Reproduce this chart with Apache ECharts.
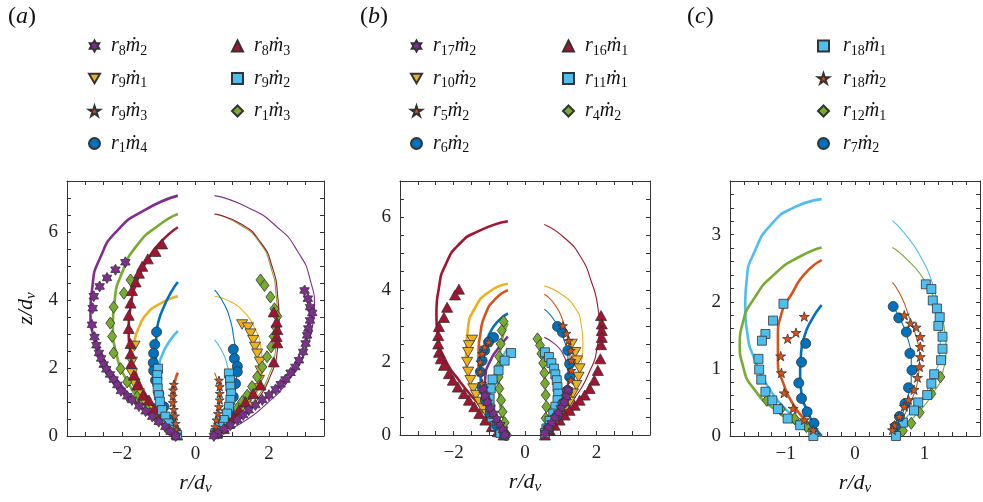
<!DOCTYPE html>
<html>
<head>
<meta charset="utf-8">
<script src="https://cdn.jsdelivr.net/npm/echarts@6/dist/echarts.min.js"></script>
<style>
html,body{margin:0;padding:0;background:#fff;}
#main{width:983px;height:502px;}
</style>
</head>
<body>
<div id="main"></div>
<script>
// ---- panel (a) ----
var a_r8m2_left  = [[-0.48,7.07],[-1.41,6.63],[-2.13,6.04],[-2.59,5.26],[-2.81,4.38],[-2.86,3.6],[-2.77,2.91],[-2.5,2.23],[-2.13,1.64],[-1.59,0.96],[-0.95,0.37],[-0.48,0]];
var a_r8m2_right = [[0.52,7.07],[1.41,6.73],[2.23,6.14],[2.77,5.45],[3.13,4.57],[3.24,3.79],[3.18,3.21],[2.95,2.42],[2.54,1.64],[1.95,0.96],[1.23,0.37],[0.5,0]];
var a_r8m2_pts = [[-1.91,5.11],[-2.18,4.89],[-2.41,4.65],[-2.61,4.4],[-2.77,4.11],[-2.8,3.76],[-2.82,3.27],[-2.75,2.91],[-2.7,2.67],[-2.63,2.44],[-2.57,2.28],[-2.5,2.1],[-2.43,1.96],[-2.33,1.81],[-2.23,1.66],[-2.13,1.5],[-2.03,1.33],[-1.86,1.17],[-1.73,1.06],[-1.54,0.88],[-1.36,0.73],[-1.18,0.57],[-1.0,0.42],[-0.82,0.27],[-0.68,0.13],[-0.54,0],
  [2.97,4.28],[3.06,4.04],[3.12,3.79],[3.18,3.62],[3.12,3.4],[3.07,3.16],[3.04,2.96],[3.0,2.72],[2.93,2.47],[2.82,2.23],[2.72,2.03],[2.59,1.86],[2.45,1.66],[2.32,1.52],[2.18,1.37],[2.0,1.2],[1.82,1.06],[1.63,0.91],[1.45,0.76],[1.3,0.62],[1.14,0.47],[0.95,0.32],[0.77,0.2],[0.61,0.08],[0.5,0]];

var a_r9m1_left  = [[-0.48,4.11],[-0.95,3.9],[-1.32,3.6],[-1.54,3.2],[-1.66,2.8],[-1.72,2.3],[-1.7,1.8],[-1.55,1.25],[-1.2,0.7],[-0.8,0.3],[-0.48,0]];
var a_r9m1_right = [[0.52,4.11],[0.95,3.95],[1.32,3.65],[1.6,3.2],[1.78,2.6],[1.82,2.0],[1.72,1.4],[1.45,0.85],[1.0,0.35],[0.52,0]];
var a_r9m1_pts = [[-1.66,2.65],[-1.73,2.18],[-1.73,1.84],[-1.66,1.54],[-1.54,1.25],[-1.36,0.96],[-1.18,0.76],[-1.0,0.55],[-0.79,0.32],[-0.59,0.1],
  [1.27,3.28],[1.43,3.19],[1.5,3.01],[1.57,2.82],[1.62,2.62],[1.68,2.42],[1.75,2.18],[1.77,1.92],[1.73,1.64],[1.63,1.4],[1.5,1.15],[1.36,0.94],[1.23,0.74],[1.06,0.55],[0.91,0.37],[0.75,0.22],[0.59,0.08]];

var a_r9m3_left  = [[-0.48,1.86],[-0.56,1.6],[-0.6,1.2],[-0.6,0.8],[-0.56,0.4],[-0.48,0]];
var a_r9m3_right = [[0.52,1.86],[0.6,1.6],[0.66,1.2],[0.65,0.8],[0.58,0.4],[0.52,0]];
var a_r9m3_pts = [[-0.59,1.52],[-0.61,1.35],[-0.62,1.17],[-0.62,0.98],[-0.59,0.78],[-0.56,0.59],[-0.54,0.37],[-0.53,0.18],[-0.5,0.03],
  [0.64,1.64],[0.66,1.45],[0.66,1.25],[0.66,1.06],[0.64,0.86],[0.61,0.66],[0.57,0.47],[0.54,0.27],[0.52,0.12]];

var a_r1m4_left  = [[-0.48,4.53],[-0.68,4.2],[-0.86,3.8],[-1.0,3.4],[-1.06,3.0],[-1.08,2.5],[-1.05,1.9],[-0.95,1.3],[-0.8,0.7],[-0.6,0.25],[-0.48,0]];
var a_r1m4_right = [[0.52,4.3],[0.77,3.9],[0.95,3.4],[1.04,2.9],[1.1,2.4],[1.12,1.9],[1.08,1.3],[0.9,0.7],[0.7,0.3],[0.52,0]];
var a_r1m4_pts = [[-1.06,3.06],[-1.11,2.69],[-1.14,2.43],[-1.15,2.15],[-1.14,1.92],[-1.09,1.64],[-1.0,1.25],[-0.86,0.86],[-0.68,0.47],[-0.54,0.13],
  [1.03,2.55],[1.06,2.28],[1.14,2.05],[1.14,1.89],[1.09,1.54],[1.03,1.15],[0.91,0.76],[0.75,0.39],[0.59,0.08]];

var a_r8m3_left  = [[-0.48,6.14],[-0.95,5.7],[-1.32,5.16],[-1.59,4.57],[-1.77,3.79],[-1.82,3.11],[-1.77,2.42],[-1.59,1.74],[-1.32,1.15],[-0.95,0.57],[-0.48,0]];
var a_r8m3_right = [[0.52,6.53],[1.23,6.24],[1.77,5.7],[2.09,4.97],[2.24,4.09],[2.28,3.3],[2.23,2.52],[2.03,1.74],[1.68,1.06],[1.18,0.47],[0.52,0]];
var a_r8m3_pts = [[-0.91,5.65],[-1.09,5.43],[-1.3,5.21],[-1.45,4.99],[-1.54,4.79],[-1.63,4.53],[-1.73,4.28],[-1.77,3.91],[-1.82,3.55],[-1.82,3.16],[-1.77,2.72],[-1.77,2.42],[-1.75,2.13],[-1.68,1.79],[-1.59,1.5],[-1.43,1.2],[-1.27,1.06],[-1.12,0.81],[-0.95,0.62],[-0.77,0.39],[-0.59,0.18],[-0.5,0.03],
  [2.13,3.65],[2.21,3.35],[2.23,3.13],[2.21,2.93],[2.23,2.74],[2.13,2.18],[1.77,1.5],[1.57,1.25],[1.36,1.01],[1.18,0.76],[1.04,0.55],[0.91,0.37],[0.77,0.22],[0.59,0.08]];

var a_r9m2_left  = [[-0.48,3.09],[-0.7,2.8],[-0.9,2.4],[-1.0,2.0],[-1.02,1.5],[-0.95,1.0],[-0.8,0.5],[-0.48,0]];
var a_r9m2_right = [[0.52,2.83],[0.72,2.5],[0.86,2.1],[0.93,1.6],[0.93,1.1],[0.82,0.6],[0.52,0]];
var a_r9m2_pts = [[-1.02,1.98],[-1.04,1.79],[-1.04,1.59],[-1.03,1.4],[-1.0,1.2],[-0.97,1.01],[-0.91,0.76],[-0.82,0.57],[-0.73,0.37],[-0.59,0.18],[-0.5,0.03],
  [0.91,1.84],[0.94,1.64],[0.95,1.45],[0.97,1.25],[0.95,1.06],[0.91,0.86],[0.86,0.66],[0.77,0.47],[0.66,0.27],[0.54,0.08]];

var a_r1m3_left  = [[-0.48,6.53],[-1.0,6.2],[-1.6,5.6],[-2.0,4.8],[-2.2,4.0],[-2.25,3.2],[-2.15,2.4],[-1.85,1.6],[-1.4,0.9],[-0.9,0.35],[-0.48,0]];
var a_r1m3_right = [[0.52,6.53],[1.2,6.22],[1.74,5.7],[2.05,4.97],[2.2,4.09],[2.24,3.3],[2.18,2.52],[1.98,1.74],[1.63,1.06],[1.14,0.47],[0.52,0]];
var a_r1m3_pts = [[-1.77,4.59],[-1.95,4.2],[-2.23,3.79],[-2.32,3.32],[-2.27,2.93],[-2.23,2.44],[-2.04,1.98],[-1.86,1.59],[-1.59,1.15],[-1.32,0.78],[-1.04,0.49],[-0.77,0.22],[-0.54,0.03],
  [1.77,4.59],[1.88,4.43],[2.04,4.09],[2.15,3.74],[2.23,3.52],[2.18,3.21],[2.13,2.93],[2.06,2.62],[1.95,2.33],[1.82,2.03],[1.68,1.74],[1.54,1.45],[1.41,1.2],[1.27,1.01],[1.14,0.81],[1.0,0.62],[0.86,0.42],[0.73,0.25],[0.54,0.08]];

// ---- panel (b) ----
var b_r17m2_left  = [[-0.48,2.71],[-0.74,2.4],[-0.97,2.05],[-1.11,1.6],[-1.13,1.15],[-0.97,0.65],[-0.74,0.3],[-0.48,0]];
var b_r17m2_right = [[0.54,2.69],[0.83,2.51],[1.06,2.24],[1.18,1.87],[1.22,1.5],[1.15,1.0],[0.95,0.55],[0.54,0]];
var b_r17m2_pts = [[-1.16,1.25],[-1.11,1.07],[-1.05,0.89],[-0.97,0.73],[-0.88,0.58],[-0.79,0.43],[-0.69,0.27],[-0.62,0.14],[-0.56,0],
  [1.2,1.23],[1.16,1.05],[1.09,0.89],[1.0,0.73],[0.93,0.59],[0.83,0.46],[0.74,0.32],[0.65,0.18],[0.56,0.05]];

var b_r10m2_left  = [[-0.48,4.17],[-1.0,3.95],[-1.4,3.5],[-1.6,2.9],[-1.65,2.2],[-1.55,1.5],[-1.25,0.85],[-0.85,0.35],[-0.48,0]];
var b_r10m2_right = [[0.54,4.11],[1.02,3.88],[1.39,3.52],[1.57,3.06],[1.62,2.51],[1.57,1.96],[1.44,1.42],[1.2,0.91],[0.91,0.46],[0.56,0]];
var b_r10m2_pts = [[-1.48,2.62],[-1.57,2.47],[-1.59,2.28],[-1.62,2.01],[-1.59,1.74],[-1.53,1.51],[-1.45,1.28],[-1.37,1.1],[-1.28,0.91],[-1.18,0.73],[-1.06,0.57],[-0.93,0.39],[-0.79,0.23],[-0.63,0.09],
  [1.31,2.51],[1.41,2.28],[1.46,2.05],[1.53,1.83],[1.5,1.6],[1.44,1.37],[1.34,1.14],[1.25,0.91],[1.11,0.68],[0.97,0.46],[0.79,0.23],[0.6,0.05]];

var b_r5m2_left  = [[-0.48,3.99],[-0.83,3.75],[-1.11,3.33],[-1.25,2.78],[-1.3,2.24],[-1.25,1.69],[-1.11,1.14],[-0.83,0.59],[-0.48,0]];
var b_r5m2_right = [[0.54,3.88],[0.83,3.6],[1.06,3.15],[1.2,2.6],[1.26,2.05],[1.2,1.5],[1.06,0.96],[0.83,0.46],[0.54,0]];
var b_r5m2_pts = [[-1.02,2.56],[-1.13,2.42],[-1.2,2.24],[-1.25,2.01],[-1.25,1.74],[-1.2,1.42],[-1.11,1.05],[-0.97,0.68],[-0.79,0.37],[-0.6,0.09],
  [1.06,3.01],[1.16,2.8],[1.22,2.6],[1.28,2.33],[1.3,2.05],[1.3,1.78],[1.28,1.51],[1.22,1.23],[1.16,0.96],[1.04,0.68],[0.88,0.41],[0.69,0.16]];

var b_r6m2_left  = [[-0.48,3.35],[-0.74,3.15],[-1.0,2.78],[-1.15,2.37],[-1.24,1.87],[-1.24,1.42],[-1.15,0.96],[-0.93,0.5],[-0.48,0]];
var b_r6m2_right = [[0.54,3.47],[0.83,3.15],[1.06,2.7],[1.2,2.15],[1.22,1.7],[1.15,1.15],[0.97,0.6],[0.54,0]];
var b_r6m2_pts = [[-0.88,2.69],[-1.02,2.56],[-1.13,2.33],[-1.2,2.05],[-1.25,1.74],[-1.2,1.32],[-1.11,0.96],[-0.97,0.59],[-0.79,0.27],[-0.57,0],
  [0.91,2.99],[1.05,2.83],[1.2,2.33],[1.25,1.96],[1.25,1.6],[1.19,1.23],[1.06,0.87],[0.88,0.5],[0.65,0.18]];

var b_r16m1_left  = [[-0.48,5.89],[-1.3,5.62],[-1.85,5.25],[-2.22,4.7],[-2.41,4.06],[-2.48,3.33],[-2.43,2.69],[-2.22,2.05],[-1.85,1.51],[-1.39,0.96],[-0.93,0.5],[-0.51,0]];
var b_r16m1_right = [[0.54,5.8],[1.11,5.43],[1.57,4.89],[1.85,4.25],[2.04,3.52],[2.08,3.06],[2.02,2.42],[1.78,1.69],[1.41,1.05],[0.97,0.5],[0.56,0]];
var b_r16m1_pts = [[-1.85,4.02],[-1.96,3.86],[-2.18,3.52],[-2.27,3.24],[-2.41,2.99],[-2.43,2.74],[-2.43,2.51],[-2.41,2.28],[-2.36,2.1],[-2.27,1.92],[-2.13,1.69],[-2.02,1.51],[-1.88,1.32],[-1.71,1.14],[-1.57,0.96],[-1.42,0.78],[-1.28,0.59],[-1.11,0.41],[-0.93,0.23],[-0.76,0.09],[-0.6,0],
  [2.13,3.29],[2.15,3.06],[2.15,2.88],[2.15,2.69],[2.13,2.49],[2.11,2.1],[2.04,1.78],[1.94,1.51],[1.81,1.28],[1.67,1.1],[1.53,0.96],[1.39,0.82],[1.25,0.68],[1.11,0.55],[0.97,0.41],[0.83,0.27],[0.69,0.14],[0.56,0]];

var b_r11m1_left  = [[-0.48,2.4],[-0.7,2.0],[-0.9,1.5],[-0.98,1.0],[-0.9,0.5],[-0.48,0]];
var b_r11m1_right = [[0.54,2.3],[0.75,2.0],[0.9,1.5],[0.93,1.0],[0.8,0.5],[0.54,0]];
var b_r11m1_pts = [[-0.39,2.26],[-0.57,2.05],[-0.74,1.78],[-0.91,1.53],[-0.96,1.28],[-0.99,1.0],[-0.97,0.73],[-0.93,0.48],[-0.83,0.25],[-0.69,0.06],
  [0.56,2.28],[0.67,2.15],[0.74,1.98],[0.81,1.83],[0.85,1.67],[0.89,1.51],[0.91,1.32],[0.93,1.14],[0.91,0.96],[0.85,0.78],[0.79,0.59],[0.69,0.39],[0.6,0.18],[0.56,0.05]];

var b_r4m2_left  = [[-0.48,3.08],[-0.6,2.8],[-0.7,2.3],[-0.74,1.7],[-0.72,1.1],[-0.62,0.5],[-0.48,0]];
var b_r4m2_pts = [[-0.6,3.13],[-0.65,2.88],[-0.68,2.51],[-0.72,2.16],[-0.74,1.87],[-0.74,1.6],[-0.72,1.28],[-0.67,0.96],[-0.63,0.64],[-0.57,0.34],[-0.51,0],
  [0.35,2.65],[0.42,2.47],[0.46,2.24],[0.51,1.98],[0.54,1.71],[0.56,1.42],[0.58,1.1],[0.6,0.78],[0.58,0.46],[0.56,0.14]];

// ---- panel (c) ----
var c_r18m1_left  = [[-0.48,3.53],[-0.87,3.41],[-1.2,3.16],[-1.44,2.76],[-1.56,2.32],[-1.58,1.92],[-1.55,1.53],[-1.44,1.13],[-1.25,0.73],[-0.99,0.39],[-0.7,0.14],[-0.48,0]];
var c_r18m1_right = [[0.54,3.21],[0.76,2.96],[0.95,2.66],[1.1,2.32],[1.19,1.92],[1.23,1.58],[1.22,1.23],[1.12,0.88],[0.95,0.53],[0.71,0.24],[0.54,0]];
var c_r18m1_pts = [[-1.03,1.97],[-1.18,1.72],[-1.29,1.52],[-1.34,1.42],[-1.39,1.15],[-1.38,0.99],[-1.35,0.84],[-1.29,0.66],[-1.19,0.53],[-1.11,0.4],[-0.97,0.26],[-0.79,0.16],[-0.6,0],
  [1.02,2.26],[1.1,2.19],[1.12,2.02],[1.18,1.9],[1.22,1.77],[1.2,1.64],[1.26,1.48],[1.26,1.3],[1.24,1.13],[1.14,0.92],[1.1,0.78],[1.04,0.61],[0.91,0.5],[0.85,0.38],[0.69,0.2],[0.59,0]];

var c_r18m2_left  = [[-0.48,2.62],[-0.72,2.42],[-0.91,2.12],[-1.06,1.82],[-1.11,1.48],[-1.11,1.13],[-1.03,0.78],[-0.87,0.44],[-0.67,0.19],[-0.48,0]];
var c_r18m2_right = [[0.54,2.29],[0.67,2.07],[0.78,1.77],[0.88,1.48],[0.93,1.18],[0.91,0.88],[0.85,0.63],[0.75,0.39],[0.64,0.19],[0.54,0]];
var c_r18m2_pts = [[-0.73,1.78],[-0.85,1.54],[-0.97,1.45],[-1.07,1.19],[-1.06,0.94],[-1.02,0.64],[-0.89,0.41],[-0.73,0.24],[-0.6,0.09],
  [0.71,1.8],[0.8,1.68],[0.88,1.62],[0.94,1.48],[0.94,1.33],[0.94,1.18],[0.93,1.03],[0.9,0.87],[0.85,0.69],[0.77,0.54],[0.71,0.44],[0.64,0.29],[0.57,0.16],[0.54,0.09]];

var c_r12m1_left  = [[-0.48,2.81],[-0.82,2.66],[-1.15,2.42],[-1.44,2.07],[-1.62,1.67],[-1.66,1.38],[-1.61,1.03],[-1.44,0.68],[-1.15,0.39],[-0.82,0.16],[-0.48,0]];
var c_r12m1_right = [[0.54,2.81],[0.76,2.62],[1.0,2.32],[1.17,1.97],[1.29,1.58],[1.31,1.33],[1.26,0.93],[1.12,0.63],[0.9,0.34],[0.67,0.11],[0.54,0]];
var c_r12m1_pts = [[-1.27,0.53],[-1.07,0.4],[-0.87,0.26],[-0.7,0.14],
  [1.23,0.88],[1.1,0.63],[0.93,0.35],[0.81,0.19],[0.69,0.08]];

var c_r7m2_left  = [[-0.48,1.95],[-0.63,1.72],[-0.73,1.48],[-0.78,1.18],[-0.79,0.93],[-0.77,0.63],[-0.67,0.34],[-0.58,0.14],[-0.48,0]];
var c_r7m2_right = [[0.55,1.93],[0.66,1.72],[0.76,1.45],[0.81,1.15],[0.81,0.85],[0.75,0.55],[0.66,0.27],[0.54,0]];
var c_r7m2_pts = [[-0.71,1.38],[-0.77,1.1],[-0.81,0.79],[-0.77,0.56],[-0.69,0.36],[-0.59,0.19],
  [0.55,1.93],[0.63,1.76],[0.74,1.55],[0.79,1.23],[0.82,0.98],[0.77,0.72],[0.72,0.48],[0.64,0.29],[0.58,0.14]];

// legend columns
var a_legend1 = ['r8m2', 'r9m1', 'r9m3', 'r1m4'];
var a_legend2 = ['r8m3', 'r9m2', 'r1m3'];
var b_legend1 = ['r17m2', 'r10m2', 'r5m2', 'r6m2'];
var b_legend2 = ['r16m1', 'r11m1', 'r4m2'];
var c_legend  = ['r18m1', 'r18m2', 'r12m1', 'r7m2'];

var C = {purple:'#7E2F8E', yellow:'#EDB120', orange:'#D95319', blue:'#0072BD', red:'#A2142F', lblue:'#4DBEEE', green:'#77AC30'};
var HEX = 'path://M10,0L12.887,5L18.66,5L15.77,10L18.66,15L12.887,15L10,20L7.113,15L1.34,15L4.23,10L1.34,5L7.113,5Z';
var STAR = 'path://M10,0L12.245,6.91L19.511,6.91L13.633,11.18L15.878,18.09L10,13.82L4.122,18.09L6.367,11.18L0.489,6.91L7.755,6.91Z';
var DOWN = 'path://M0,0L20,0L10,17.3Z';
var SERIF = "'Liberation Serif', 'Times New Roman', serif";

var series = [];
function fitLine(gi, data, color, thick) {
    series.push({
        type: 'line', xAxisIndex: gi * 2, yAxisIndex: gi * 2, data: data,
        smooth: 0.6, symbol: 'none', silent: true, z: 2,
        lineStyle: {color: color, width: thick ? 2.6 : 1.1}
    });
}
function points(gi, name, data, color, symbol, size) {
    series.push({
        type: 'scatter', name: name, xAxisIndex: gi * 2, yAxisIndex: gi * 2, data: data,
        symbol: symbol, symbolSize: size, symbolKeepAspect: true, z: 3,
        itemStyle: {color: color, borderColor: '#333', borderWidth: 0.8, opacity: 1}
    });
}

// (a)
fitLine(0, a_r1m3_left, C.green, true);   fitLine(0, a_r1m3_right, C.green, false);
fitLine(0, a_r8m2_left, C.purple, true);  fitLine(0, a_r8m2_right, C.purple, false);
fitLine(0, a_r8m3_left, C.red, true);     fitLine(0, a_r8m3_right, C.red, false);
fitLine(0, a_r9m1_left, C.yellow, true);  fitLine(0, a_r9m1_right, C.yellow, false);
fitLine(0, a_r1m4_left, C.blue, true);    fitLine(0, a_r1m4_right, C.blue, false);
fitLine(0, a_r9m2_left, C.lblue, true);   fitLine(0, a_r9m2_right, C.lblue, false);
fitLine(0, a_r9m3_left, C.orange, true);  fitLine(0, a_r9m3_right, C.orange, false);
points(0, 'r9m1', a_r9m1_pts, C.yellow, DOWN, 11);
points(0, 'r1m3', a_r1m3_pts, C.green, 'diamond', [9, 12]);
points(0, 'r8m3', a_r8m3_pts, C.red, 'triangle', [11, 10]);
points(0, 'r1m4', a_r1m4_pts, C.blue, 'circle', 10);
points(0, 'r9m2', a_r9m2_pts, C.lblue, 'rect', 9);
points(0, 'r9m3', a_r9m3_pts, C.orange, STAR, 9);
points(0, 'r8m2', a_r8m2_pts, C.purple, HEX, 11);

// (b)
fitLine(1, b_r16m1_left, C.red, true);    fitLine(1, b_r16m1_right, C.red, false);
fitLine(1, b_r10m2_left, C.yellow, true); fitLine(1, b_r10m2_right, C.yellow, false);
fitLine(1, b_r5m2_left, C.orange, true);  fitLine(1, b_r5m2_right, C.orange, false);
fitLine(1, b_r6m2_left, C.blue, true);    fitLine(1, b_r6m2_right, C.blue, false);
fitLine(1, b_r4m2_left, C.green, true);
fitLine(1, b_r11m1_left, C.lblue, true);  fitLine(1, b_r11m1_right, C.lblue, false);
fitLine(1, b_r17m2_left, C.purple, true); fitLine(1, b_r17m2_right, C.purple, false);
points(1, 'r10m2', b_r10m2_pts, C.yellow, DOWN, 11);
points(1, 'r16m1', b_r16m1_pts, C.red, 'triangle', [11, 10]);
points(1, 'r4m2', b_r4m2_pts, C.green, 'diamond', [9, 12]);
points(1, 'r11m1', b_r11m1_pts, C.lblue, 'rect', 9);
points(1, 'r6m2', b_r6m2_pts, C.blue, 'circle', 10);
points(1, 'r5m2', b_r5m2_pts, C.orange, STAR, 9);
points(1, 'r17m2', b_r17m2_pts, C.purple, HEX, 11);

// (c)
fitLine(2, c_r18m1_left, C.lblue, true);  fitLine(2, c_r18m1_right, C.lblue, false);
fitLine(2, c_r12m1_left, C.green, true);  fitLine(2, c_r12m1_right, C.green, false);
fitLine(2, c_r18m2_left, C.orange, true); fitLine(2, c_r18m2_right, C.orange, false);
fitLine(2, c_r7m2_left, C.blue, true);    fitLine(2, c_r7m2_right, C.blue, false);
points(2, 'r12m1', c_r12m1_pts, C.green, 'diamond', [9, 12]);
points(2, 'r18m1', c_r18m1_pts, C.lblue, 'rect', 9);
points(2, 'r7m2', c_r7m2_pts, C.blue, 'circle', 10);
points(2, 'r18m2', c_r18m2_pts, C.orange, STAR, 10);

var grids = [
    {left: 67, top: 181, width: 257, height: 255},
    {left: 400, top: 181, width: 250, height: 254},
    {left: 730, top: 181, width: 251, height: 255}
];
var xRanges = [[-3.5, 3.5, 0.5, 2], [-3.5, 3.5, 0.5, 2], [-1.8, 1.8, 0.2, 1]];
var yRanges = [[0, 7.5, 0.5, 2], [0, 7, 0.5, 2], [0, 3.8, 0.2, 1]];

function tickLabel(step) {
    return function (v) {
        var k = v / step;
        if (Math.abs(k - Math.round(k)) > 1e-6) return '';
        var r = Math.round(v);
        return r < 0 ? '\u2212' + (-r) : '' + r;
    };
}
var italic = {fontFamily: SERIF, fontStyle: 'italic', fontSize: 22, lineHeight: 26, color: '#111'};
var sub = {fontFamily: SERIF, fontStyle: 'italic', fontSize: 15, lineHeight: 14, verticalAlign: 'bottom', color: '#111'};

function axis(kind, gi, r, pos, labels) {
    var ax = {
        type: 'value', gridIndex: gi, position: pos, min: r[0], max: r[1], interval: r[2],
        axisLine: {show: true, onZero: false, lineStyle: {color: '#333', width: 1}},
        axisTick: {show: true, inside: true, length: 4, interval: 0, lineStyle: {color: '#333'}},
        splitLine: {show: false},
        axisLabel: {show: labels, interval: 0, formatter: tickLabel(r[3]), fontFamily: SERIF, fontSize: 19, color: '#222', margin: 9}
    };
    if (labels && kind === 'x') {
        ax.name = '{i|r/d}{s|v}';
        ax.nameLocation = 'middle';
        ax.nameGap = 34;
        ax.nameTextStyle = {rich: {i: italic, s: sub}};
    }
    if (labels && kind === 'y' && gi === 0) {
        ax.name = '{i|z/d}{s|v}';
        ax.nameLocation = 'middle';
        ax.nameGap = 28;
        ax.nameTextStyle = {rich: {i: italic, s: sub}};
    }
    return ax;
}
var xAxes = [], yAxes = [];
for (var g = 0; g < 3; g++) {
    xAxes.push(axis('x', g, xRanges[g], 'bottom', true));
    xAxes.push(axis('x', g, xRanges[g], 'top', false));
    yAxes.push(axis('y', g, yRanges[g], 'left', true));
    yAxes.push(axis('y', g, yRanges[g], 'right', false));
}

var legRich = {
    g: {width: 0},
    i: {fontFamily: SERIF, fontStyle: 'italic', fontSize: 20, lineHeight: 24, color: '#111'},
    s: {fontFamily: SERIF, fontSize: 14, lineHeight: 12, verticalAlign: 'bottom', color: '#111'}
};
function legFmt(name) {
    var m = name.match(/r(\d+)m(\d+)/);
    return '{g|}{i|r}{s|' + m[1] + '}{i|\u1E41}{s|' + m[2] + '}';
}
function legend(names, left, top, pad) {
    return {
        data: names, orient: 'vertical', left: left, top: top, itemGap: 10.5,
        itemWidth: 11, itemHeight: 11, selectedMode: false, padding: 0,
        formatter: legFmt,
        textStyle: {rich: legRich, padding: [0, 0, 0, pad]}
    };
}

var panelRich = {
    p: {fontFamily: SERIF, fontSize: 24, fontWeight: 'normal', color: '#111'},
    i: {fontFamily: SERIF, fontStyle: 'italic', fontSize: 24, fontWeight: 'normal', color: '#111'}
};
function panelTitle(letter, left) {
    return {text: '{p|(}{i|' + letter + '}{p|)}', left: left, top: 5, padding: 0,
        textStyle: {fontWeight: 'normal', rich: panelRich}};
}

var myChart = echarts.init(document.getElementById('main'));
var option = {
    backgroundColor: '#fff',
    animation: false,
    title: [panelTitle('a', 8), panelTitle('b', 360), panelTitle('c', 687)],
    legend: [
        legend(a_legend1, 88, 36, 6), legend(a_legend2, 231, 36, 6),
        legend(b_legend1, 410, 36, 6), legend(b_legend2, 562, 36, 6),
        legend(c_legend, 817, 36, 9)
    ],
    grid: grids,
    xAxis: xAxes,
    yAxis: yAxes,
    series: series
};
myChart.setOption(option);
</script>
</body>
</html>
